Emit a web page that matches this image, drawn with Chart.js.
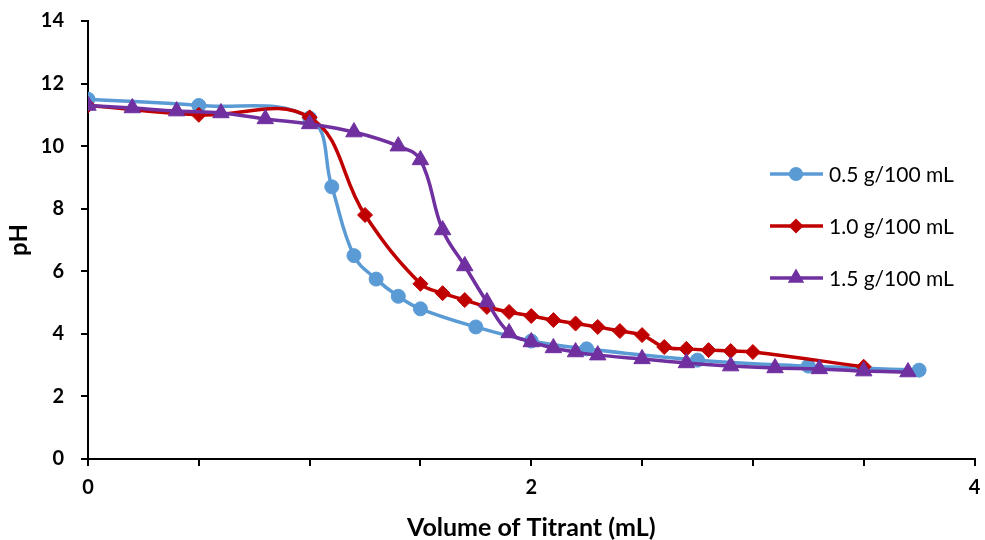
<!DOCTYPE html>
<html><head><meta charset="utf-8">
<script src="https://cdn.jsdelivr.net/npm/chart.js@4/dist/chart.umd.min.js"></script>
<style>html,body{margin:0;padding:0;background:#fff}#wrap{width:985px;height:540px;position:relative}</style>
</head><body><div id="wrap"><canvas id="c"></canvas></div>
<script>
const seriesNames = ['0.5 g/100 mL', '1.0 g/100 mL', '1.5 g/100 mL'];
const xBlue = [0, 0.5, 1.0, 1.1, 1.2, 1.3, 1.4, 1.5, 1.75, 2.0, 2.25, 2.75, 3.25, 3.75];
const yBlue = [11.5, 11.3, 10.9, 8.7, 6.5, 5.75, 5.2, 4.8, 4.22, 3.77, 3.52, 3.16, 2.97, 2.84];
const xRed = [0, 0.5, 1.0, 1.25, 1.5, 1.6, 1.7, 1.8, 1.9, 2.0, 2.1, 2.2, 2.3, 2.4, 2.5, 2.6, 2.7, 2.8, 2.9, 3.0, 3.5];
const yRed = [11.3, 11.0, 10.92, 7.8, 5.6, 5.3, 5.08, 4.86, 4.7, 4.57, 4.44, 4.33, 4.22, 4.09, 3.96, 3.58, 3.52, 3.48, 3.45, 3.42, 2.95];
const xPurple = [0, 0.2, 0.4, 0.6, 0.8, 1.0, 1.2, 1.4, 1.5, 1.6, 1.7, 1.8, 1.9, 2.0, 2.1, 2.2, 2.3, 2.5, 2.7, 2.9, 3.1, 3.3, 3.5, 3.7];
const yPurple = [11.3, 11.22, 11.12, 11.06, 10.87, 10.71, 10.45, 10.0, 9.56, 7.32, 6.17, 5.02, 4.03, 3.74, 3.55, 3.42, 3.32, 3.2, 3.07, 2.97, 2.91, 2.88, 2.81, 2.78];
const xLabeledTicks = [0, 2, 4];
const yMin = 0, yMax = 14, yStep = 2;
const xMin = 0, xMax = 4, xStep = 0.5;

const colors = ['#5B9BD5', '#C00000', '#7030A0'];
const shapes = ['circle', 'rectRot', 'triangle'];
const radii = [7, 7.5, 9.5];
const FONT = 'Lato';

function pairs(xs, ys) { return xs.map((x, i) => ({x: x, y: ys[i]})); }
const allX = [xBlue, xRed, xPurple];
const allY = [yBlue, yRed, yPurple];

const datasets = seriesNames.map((name, i) => ({
  label: name,
  data: pairs(allX[i], allY[i]),
  showLine: true,
  borderColor: colors[i],
  backgroundColor: colors[i],
  pointBackgroundColor: colors[i],
  pointBorderColor: colors[i],
  borderWidth: 3.5,
  pointStyle: shapes[i],
  pointRadius: radii[i],
  pointHoverRadius: radii[i],
  pointBorderWidth: 1,
  tension: 0.4,
  order: 2 - i
}));

function drawMarker(ctx, shape, x, y, r) {
  ctx.beginPath();
  if (shape === 'circle') {
    ctx.arc(x, y, r, 0, Math.PI * 2);
  } else if (shape === 'rectRot') {
    ctx.moveTo(x, y - r); ctx.lineTo(x + r, y); ctx.lineTo(x, y + r); ctx.lineTo(x - r, y);
  } else {
    const a = 2 * Math.PI / 3;
    for (let k = 0; k < 3; k++) {
      const px = x + Math.sin(k * a) * r, py = y - Math.cos(k * a) * r;
      if (k === 0) ctx.moveTo(px, py); else ctx.lineTo(px, py);
    }
  }
  ctx.closePath();
  ctx.fill();
}

const legendPlugin = {
  id: 'inlineLegend',
  afterDraw(chart) {
    const ctx = chart.ctx;
    const rowsY = [174, 226, 278];
    const x0 = 770, x1 = 823, xm = 796, tx = 829;
    ctx.save();
    seriesNames.forEach((name, i) => {
      const y = rowsY[i];
      ctx.strokeStyle = colors[i];
      ctx.fillStyle = colors[i];
      ctx.lineWidth = 3.5;
      ctx.beginPath(); ctx.moveTo(x0, y); ctx.lineTo(x1, y); ctx.stroke();
      drawMarker(ctx, shapes[i], xm, y, radii[i]);
      ctx.fillStyle = '#000';
      ctx.font = '21px ' + FONT;
      ctx.textBaseline = 'middle';
      ctx.textAlign = 'left';
      ctx.fillText(name, tx, y + 1);
    });
    ctx.restore();
  }
};

new Chart(document.getElementById('c'), {
  type: 'scatter',
  data: { datasets: datasets },
  plugins: [legendPlugin],
  options: {
    responsive: true,
    maintainAspectRatio: false,
    animation: false,
    layout: { padding: { top: 21, right: 8, left: 0, bottom: 0 } },
    plugins: { legend: { display: false }, tooltip: { enabled: false } },
    scales: {
      x: {
        type: 'linear', min: xMin, max: xMax,
        ticks: {
          stepSize: xStep, autoSkip: false, maxRotation: 0, padding: 10, color: '#000',
          font: { family: FONT, size: 20, weight: 'bold' },
          callback: (v) => xLabeledTicks.includes(v) ? String(v) : ''
        },
        grid: { drawOnChartArea: false, drawTicks: true, tickLength: 7, color: '#000', lineWidth: 2 },
        border: { display: true, color: '#000', width: 2 },
        title: { display: true, text: 'Volume of Titrant (mL)', color: '#000',
          font: { family: FONT, size: 25, weight: 'bold', lineHeight: 1 }, padding: { top: 0, bottom: 0 } },
        afterFit(s) { s.height = 81; s.paddingLeft = 0; s.paddingRight = 0; }
      },
      y: {
        type: 'linear', min: yMin, max: yMax,
        ticks: { stepSize: yStep, padding: 17, color: '#000',
          font: { family: FONT, size: 20, weight: 'bold' } },
        grid: { drawOnChartArea: false, drawTicks: true, tickLength: 7, color: '#000', lineWidth: 2 },
        border: { display: true, color: '#000', width: 2 },
        title: { display: true, text: 'pH', color: '#000',
          font: { family: FONT, size: 24, weight: 'bold', lineHeight: 1 }, padding: { top: 7, bottom: 0 } },
        afterFit(s) { s.width = 88; s.paddingTop = 0; s.paddingBottom = 0; }
      }
    }
  }
});
</script>
</body></html>
